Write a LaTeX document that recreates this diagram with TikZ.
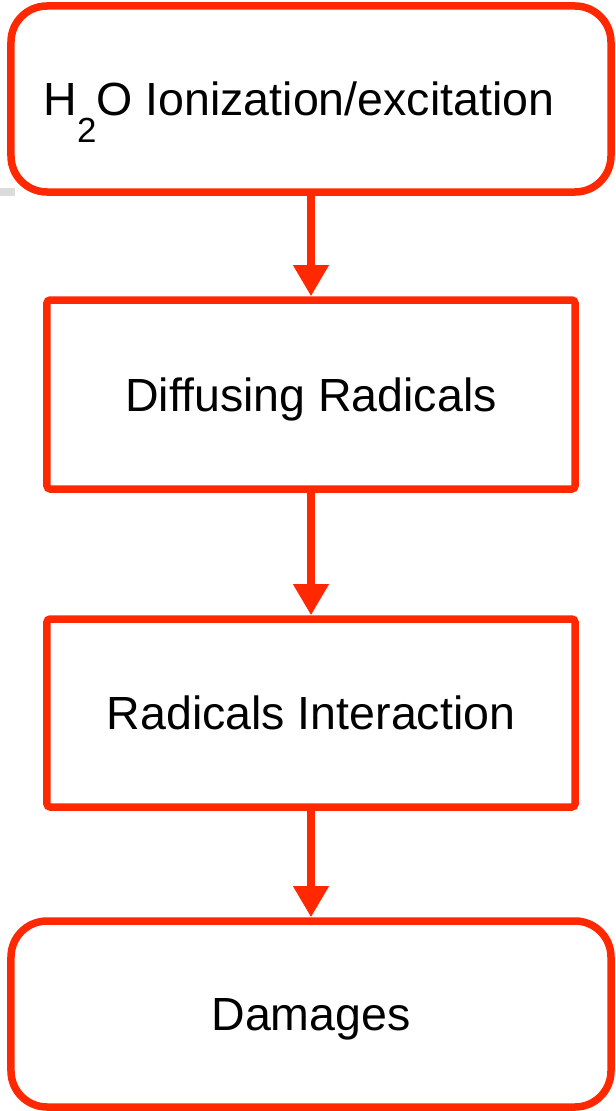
\documentclass[tikz,border=0pt]{standalone}
\usepackage{fontspec}
\setmainfont{Liberation Sans}
\usetikzlibrary{arrows.meta}
\definecolor{flowred}{RGB}{255,40,0}

\begin{document}
\begin{tikzpicture}[
        roundbox/.style={draw=flowred, line width=0.1875cm, rounded corners=0.9cm, fill=white,
            minimum width=15cm, minimum height=4.65cm, inner sep=0pt,
            text height=0.834cm, text depth=0pt, font=\fontsize{33.1pt}{40pt}\selectfont},
        sharpbox/.style={roundbox, rounded corners=0.08cm, minimum width=13.2cm},
        flow/.style={draw=flowred, line width=0.1875cm, -{Triangle[width=0.85cm, length=0.78cm]}}
    ]
        \useasboundingbox (-7.775, 0) rectangle (7.6, -27.775);
        \draw[black!14, line width=0.2cm] (-7.775, -4.8) -- (-7.4, -4.8);

        \node (0) at (0, -2.475)[roundbox] {H\raisebox{-0.675cm}{\fontsize{24.8pt}{24.8pt}\selectfont 2}O Ionization/excitation\kern0.6cm};
        \node (1) at (0, -9.8625)[sharpbox, minimum height=4.725cm] {Diffusing Radicals};
        \node (2) at (0, -17.825)[sharpbox, minimum height=4.7cm] {Radicals Interaction};
        \node (3) at (0, -25.35)[roundbox] {Damages};

        \draw[flow] (0) -- (1);
        \draw[flow] (1) -- (2);
        \draw[flow] (2) -- (3);
    \end{tikzpicture}
\end{document}
